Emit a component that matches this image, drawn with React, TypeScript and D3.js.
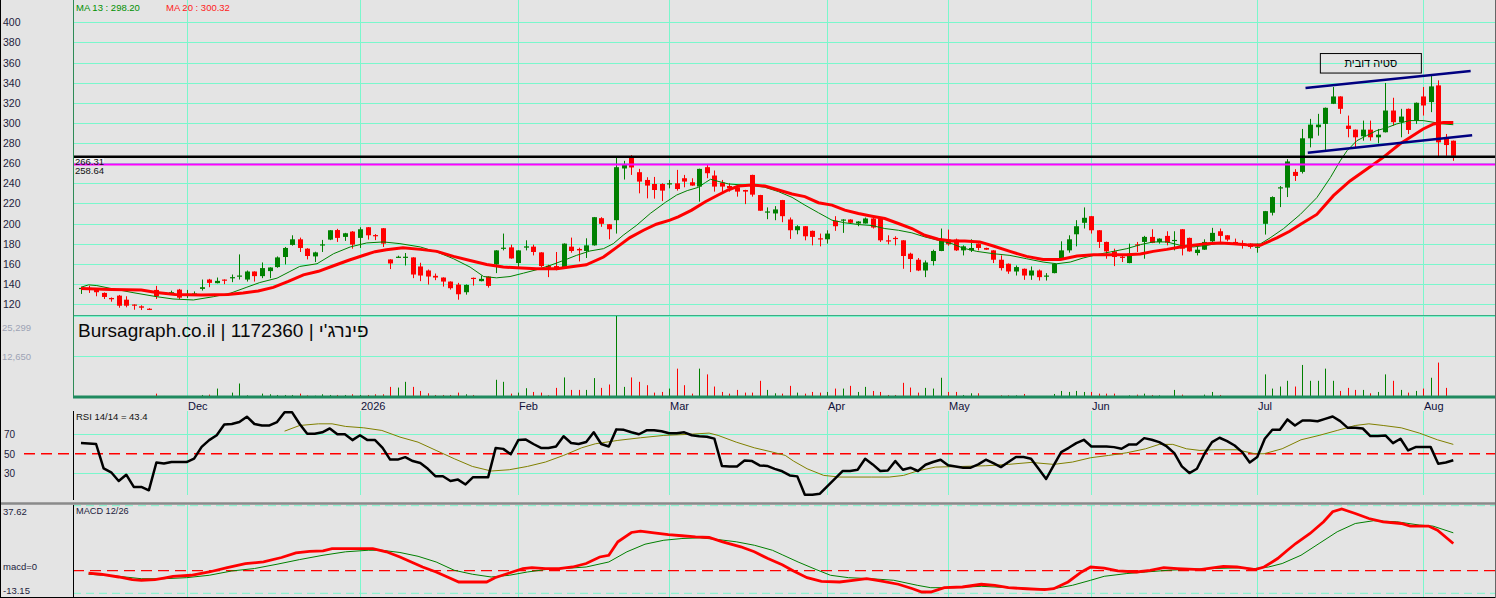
import * as d3 from 'd3';
import React, { useEffect } from 'react';

// candles (one per trading day, index 0..182)
const opens = [
  135, 136, 134.3, 131, 126, 128.3, 124.3, 119.5, 117.7, 115.3,
  134, 131.2, 131, 134.3, 129.5, 129.5, 135, 144.3, 140.7, 144.3,
  145.7, 147.7, 144.3, 152.3, 147.7, 152.7, 156.7, 166.7, 178.7, 184.3,
  175, 167.3, 178.5, 184, 193.5, 186.7, 192, 185.7, 196.3, 188.5,
  195.3, 164.3, 166, 166, 166.3, 157.3, 153.3, 148, 146.3, 142.3,
  139.3, 131.7, 146, 142.7, 147.3, 159.3, 175.5, 176.3, 160.7, 176,
  177, 171.3, 158, 157.7, 155.7, 177, 174.7, 172.7, 178.3, 205.3,
  199.3, 203.3, 254.7, 266, 251, 243.3, 239.3, 239.3, 239, 240,
  245, 241, 236.7, 256, 247.7, 240.7, 237.3, 236, 233.3, 248.3,
  228.3, 211.3, 210, 223.3, 204, 193.3, 197.3, 192.7, 185.3, 184.3,
  202.7, 203.7, 204, 200, 200, 205, 205, 183.3, 185.7, 183.3,
  170, 164, 153.3, 162.7, 172.7, 184, 184, 173.3, 173.3, 180,
  175.7, 173.3, 164, 160, 152.3, 155, 148.3, 153.3, 147.3, 150.7,
  165.7, 173.3, 189.3, 200.7, 207.3, 193.3, 181.7, 172.3, 167, 160.7,
  179.3, 181.7, 186.7, 181.7, 187.7, 183, 194.3, 185.7, 170.7, 174,
  182.3, 192.3, 188.3, 181.7, 180.3, 180, 176.3, 199.7, 210.7, 235,
  235.7, 251.3, 251.3, 284.7, 295.7, 299, 319, 326.3, 297.3, 293.3,
  286.7, 293.3, 285.7, 290.7, 312.3, 300.7, 314, 302.3, 326.3, 320.7,
  337.3, 284.7, 282.3,
];
const highs = [
  137, 138, 134.5, 131.5, 126.5, 129, 127.7, 119.7, 118.7, 115.8,
  138, 131.3, 133.3, 135, 134, 132.5, 144.3, 145, 146.3, 144.5,
  149.3, 169.3, 153.3, 152.5, 161.3, 156.5, 167.3, 176.7, 188.3, 186,
  175.5, 172, 183.7, 193.5, 194.7, 190.7, 192.5, 196.3, 196.5, 189.5,
  195.5, 164.5, 168, 170.7, 166.5, 161, 154.3, 150.3, 146.5, 142.5,
  141, 139.5, 146.3, 148.3, 147.5, 173.5, 190, 179, 173.5, 183.3,
  179, 171.5, 159, 171.7, 180.3, 186, 176, 185.3, 206.5, 206.3,
  199.5, 266, 262.3, 268, 254.3, 246, 246.3, 240, 243.3, 253.3,
  248.3, 245, 254.5, 258.3, 252.7, 243.3, 240, 236.3, 233.5, 248.5,
  228.5, 216, 217.3, 223.5, 206, 198.3, 197.5, 193, 190, 193.3,
  207.3, 204.3, 204.3, 202.3, 206, 206.7, 205.3, 188.3, 187.3, 183.5,
  171, 165.7, 163.3, 174, 195, 194, 185, 178.3, 184.3, 180.3,
  176, 173.5, 168.3, 160.3, 158.3, 155.3, 157.3, 154.3, 150.7, 160.3,
  182.3, 188.3, 203.3, 216, 207.5, 193.5, 182, 175, 169, 180,
  181.7, 187.7, 194.3, 185.3, 192.3, 192.3, 194.5, 186, 178.3, 184.3,
  195.7, 195, 188.5, 185, 183.3, 180.3, 180, 212.5, 227, 237.3,
  264, 254, 294, 304, 309, 315.3, 335.7, 326.5, 307.3, 293.5,
  302.3, 302.3, 294, 339.7, 325, 314, 314.3, 320.3, 335.7, 347.3,
  342.3, 289, 282.5,
];
const lows = [
  130, 131, 127.7, 125, 122.3, 116.3, 116.7, 114.3, 114, 114,
  125, 131.1, 129.3, 125, 126, 128, 133.3, 136.7, 140.5, 139.7,
  141.7, 144.3, 142.3, 142.3, 145.7, 145.7, 156, 159.3, 178, 171.7,
  164.3, 161.7, 171.7, 183.5, 181.7, 182.7, 175, 175.7, 184, 183.5,
  176.7, 154.7, 166, 158.3, 145.7, 142.7, 139.3, 143.7, 137.3, 134.3,
  124.3, 129.3, 138.3, 142.5, 136.3, 150.7, 173.3, 165, 156.7, 173.3,
  168.3, 156.7, 146.7, 153.5, 155, 171, 162.3, 165.7, 178, 196.7,
  184.3, 190, 243.7, 248.3, 230, 225, 224.7, 222.3, 235, 232.7,
  236, 237.5, 221.7, 245, 231.7, 230, 231.7, 226.7, 219.3, 226.7,
  212.5, 204.3, 203.3, 201.3, 184.7, 189.3, 183.3, 178.3, 177.3, 180,
  192.7, 190.7, 200.5, 197.3, 200, 195, 181.7, 179.3, 178.3, 155,
  151.7, 152.7, 146.7, 158.3, 172.5, 178, 172.7, 168.3, 171.7, 173.3,
  173.8, 160.7, 153.3, 150, 148.3, 144, 144, 143.3, 143.3, 150.5,
  165, 171, 177.3, 195, 190, 175.7, 165, 157.7, 161.7, 160.5,
  171.7, 165, 180.5, 180, 178.3, 173.3, 168.3, 172, 168.3, 173.8,
  181.7, 181.7, 182.3, 179.8, 175, 175, 171, 189, 208, 216.3,
  226.3, 242.3, 249.7, 275.7, 287.3, 273, 318.7, 309, 285.7, 275.7,
  282.3, 282.3, 279.7, 290.5, 297.3, 285.7, 289, 299, 307.3, 310.7,
  266.3, 267.3, 262.3,
];
const closes = [
  136, 135, 131.7, 127, 124.7, 118.3, 118.3, 119, 116.3, 115,
  127.7, 131.2, 131.7, 126.3, 130, 130.5, 136.7, 141, 143, 143.7,
  146.7, 148.3, 152.3, 147.7, 155.7, 156.3, 166.3, 175.7, 184.3, 175.7,
  167.7, 171.3, 179.3, 193.3, 185.7, 190.3, 179, 194.3, 188.3, 188,
  180, 160.3, 167, 167, 149.3, 148.3, 147.3, 146.3, 142.3, 135.7,
  129.7, 139, 145.5, 145, 138, 173.3, 176, 165.3, 173.3, 177.3,
  171.7, 157.7, 156, 154, 180, 172.7, 173.3, 178.3, 206.3, 199.7,
  194.3, 256, 258.7, 255.7, 241.7, 237.7, 233.3, 232.7, 240, 234.3,
  241.7, 237.7, 254.3, 250, 236.7, 236.7, 235, 231.7, 231.7, 228.7,
  212.7, 212, 214, 207.3, 193.3, 197.3, 187.3, 186.7, 184.7, 190,
  197.3, 204, 200.7, 202, 205, 196, 183.3, 182.3, 184.7, 167.7,
  164.7, 153.3, 161.3, 172.7, 184, 179.3, 173.3, 177.3, 175.7, 175.7,
  174, 164, 155.7, 152.3, 156.7, 148.3, 153.3, 146.7, 148.3, 160,
  173.3, 184.3, 197.3, 205.7, 193.3, 181.7, 172.3, 166.7, 166.5, 170,
  178.7, 186.7, 180.7, 185, 181, 183.7, 175, 172.3, 174, 181.7,
  190.7, 187.7, 184, 180, 179.7, 176.7, 177, 212.3, 226.3, 236,
  261.7, 247.3, 284.7, 298.3, 298.3, 315, 326.3, 314, 294, 285.7,
  293.3, 285.7, 288.3, 312.3, 300.7, 306.3, 293, 320, 317.3, 336.3,
  280.7, 278, 267.3,
];
const volumes = [
  316, 316, 316, 150, 150, 316, 150, 150, 150, 150,
  1054, 316, 316, 316, 150, 150, 632, 738, 2635, 316,
  1370, 4216, 527, 316, 1054, 843, 632, 632, 632, 1054,
  527, 422, 843, 632, 632, 632, 843, 632, 632, 843,
  843, 3162, 2951, 4743, 3162, 1897, 1159, 632, 632, 632,
  1370, 843, 632, 316, 316, 5375, 4743, 1054, 1370, 2740,
  1581, 1370, 527, 2846, 6113, 2213, 2213, 2213, 5902, 2846,
  3900, 25299, 3162, 6113, 4743, 3689, 1370, 1581, 2635, 8854,
  3689, 1054, 8854, 7062, 3267, 1581, 1054, 2213, 1370, 1370,
  5059, 2213, 1159, 1054, 3478, 1370, 1054, 1581, 1370, 1581,
  2635, 2635, 3478, 1581, 3162, 1897, 1581, 632, 632, 4427,
  2951, 1370, 2846, 2635, 6008, 1581, 1581, 632, 1159, 1159,
  316, 316, 527, 527, 527, 949, 316, 316, 316, 949,
  1897, 1581, 1897, 1581, 1581, 1054, 1054, 1054, 316, 527,
  738, 1054, 632, 527, 316, 2213, 738, 316, 316, 738,
  1581, 632, 316, 150, 316, 316, 316, 7062, 2635, 3267,
  5059, 3267, 10013, 5059, 5059, 8854, 5059, 1897, 2846, 2213,
  2213, 1159, 1581, 7062, 5059, 2213, 1370, 1897, 2635, 6008,
  10751, 2846, 316,
];

// moving averages, [day index, value]
const ma13Points = [
  [0, 136.7], [1, 139], [2.1, 138.3], [3.8, 135.7], [6.9, 131.3], [10, 127.3], [12.2, 125],
  [14.9, 124], [17.6, 127.3], [19.8, 130.7], [22, 136.7], [23.7, 141.3], [26, 145.7],
  [27.7, 152.3], [29, 157.3], [31.3, 160], [33.5, 170], [35.7, 176.7], [37.9, 180.7],
  [40.1, 181.7], [42.3, 180], [45, 176.7], [47.2, 171.7], [49.4, 165], [51.6, 156.7],
  [53.4, 147.3], [55.1, 146], [56.9, 147.3], [58.7, 150.7], [60.4, 154], [62.2, 158.3],
  [64, 163.3], [65.7, 168.3], [67.5, 172.7], [69.3, 175], [70.6, 180], [71.9, 188.3],
  [73.7, 198.3], [75.5, 210], [77.5, 221], [79, 228.3], [80.4, 232.7], [81.9, 236],
  [82.8, 240.7], [83.5, 244], [84.6, 241.7], [85.9, 239.3], [87.7, 238.3], [89, 238],
  [90.7, 236], [92.5, 231.7], [94.3, 226], [96, 218.3], [97.8, 210.7], [99.6, 203.3],
  [101.3, 200.7], [103.1, 199], [104.9, 198], [106.6, 195], [108.4, 193.3], [110.2, 190.7],
  [111.9, 186.7], [113.7, 183.3], [115.5, 180], [117, 175.5], [118.8, 172.3], [121, 170],
  [123.2, 168.3], [125.4, 165], [127.6, 161.7], [129.4, 160], [131.2, 161.7], [132.9, 165.7],
  [134.7, 169], [136.5, 171.7], [138.7, 175], [140.5, 179], [142.2, 181.7], [144, 181.7],
  [145.8, 178.3], [147.5, 176.7], [149.3, 178.3], [151.1, 180.7], [152.8, 180], [154.6, 179],
  [156.4, 179.7], [157.7, 185.7], [159.5, 195], [161.7, 209], [163.9, 225.7], [165.7, 245.7],
  [167, 262.3], [167.9, 272.3], [169.2, 282.3], [170.5, 287.3], [171.8, 292.3], [173.1, 295],
  [174.5, 299], [176.2, 302.3], [178, 302.3], [179.3, 300.7], [180.6, 299], [182, 298.2],
];
const ma20Points = [
  [0, 135.5], [4, 134.5], [8, 134], [10, 131.5], [12.5, 129.5], [16, 129], [19.5, 129.5],
  [21.5, 131], [23.5, 133], [25.5, 136.5], [27.5, 142.5], [29.5, 149], [31.5, 152.5],
  [33.5, 158], [35.5, 163.5], [37.5, 168.5], [39, 172], [40.5, 174], [42.7, 176],
  [45, 174.3], [47.2, 172.3], [49.4, 167.3], [51.6, 163.3], [53.8, 159.3], [56, 156.7],
  [57.8, 156], [60.4, 155], [63.1, 155], [64.8, 156.7], [67, 159], [69.3, 166.7], [71, 176],
  [72.8, 186], [74.6, 193.3], [76.3, 199.3], [78.1, 203.3], [79.2, 206.7], [81, 213.3],
  [82.8, 221.7], [84.5, 228.3], [85.8, 233.3], [87.2, 237.3], [89, 238.3], [90.7, 237.3],
  [92.5, 233.3], [94.3, 229.3], [96, 226.7], [97.8, 220.7], [99.6, 218.3], [101.3, 213.3],
  [103.1, 210], [104.9, 207.3], [106.6, 205], [108.4, 200], [110.2, 195], [111.9, 188.3],
  [113.7, 184.3], [115.5, 182.7], [117.2, 182.5], [119.2, 181.7], [121, 177.7], [123.2, 172.3],
  [125.4, 167.3], [127.6, 164.3], [129.9, 164.3], [132.1, 167.7], [134.3, 169], [136.5, 169],
  [138.7, 169], [140.5, 169.7], [142.2, 172.3], [144, 174.3], [145.8, 176.7], [147.5, 178.3],
  [149.3, 180], [151.1, 180.7], [152.8, 180], [154.6, 179], [156.4, 178.3], [158.6, 185.7],
  [160.3, 192.3], [161.7, 199], [163.9, 209], [166.1, 227.7], [168.3, 242.3], [170.5, 254],
  [172.7, 265.7], [174.9, 279], [176.3, 285.7], [178, 294], [179.4, 299], [180.7, 300.5],
  [182, 300.32],
];

// RSI 14, one value per day
const rsiValues = [
  61, 60.5, 60, 35, 31, 22, 28.5, 16, 16, 12.5,
  41, 40, 41.5, 41.5, 41.5, 45, 57, 64, 69, 80,
  80.5, 82.5, 88, 80.5, 79, 79, 82.5, 92.5, 92.5, 80.5,
  70.5, 70.5, 72, 76, 70, 70, 64, 69, 64, 64,
  56, 44, 44, 46.5, 42.5, 40.5, 34.5, 27, 27, 22,
  23.5, 18.5, 26, 26, 26, 56, 55, 49.5, 64, 64.5,
  60, 56, 56, 57.5, 68, 61, 60, 62, 72, 60,
  57.5, 75, 74.5, 72, 70, 74, 74, 73, 71, 71,
  72, 69, 68, 67.5, 65.5, 37.5, 37, 37, 43, 42.5,
  38, 37.5, 34.5, 32, 27.8, 26.8, 8, 8, 9, 16.9,
  24.4, 32.3, 32.3, 33.6, 44.9, 39.1, 32.3, 32.9, 42.5, 33.6,
  35.7, 32.3, 38.7, 41.5, 43.9, 38.1, 37, 35.7, 35.7, 39.1,
  43.9, 40.4, 36.3, 41.5, 46.6, 46.6, 44.9, 34.6, 24.1, 38.1,
  51.7, 56.1, 60.9, 64.3, 57.5, 57.5, 57.5, 56.8, 55.1, 59.6,
  59.6, 66, 64.3, 61.9, 57.5, 50.7, 37, 30.2, 34.6, 50,
  61.9, 66.4, 63, 58.5, 51.7, 41.1, 46.6, 65.4, 74.6, 74.6,
  85.2, 79, 84.1, 84.1, 83.4, 85.8, 88.2, 83.4, 76.6, 76.6,
  75.9, 68.1, 68.1, 68.8, 60.9, 65.4, 53.4, 56.8, 56.8, 56.8,
  39.8, 41.1, 43.4,
];
const rsiSignalPoints = [
  [27, 73.2], [29, 79], [31.5, 80.7], [33.3, 80.7], [35.1, 78], [37.5, 76.6], [39.9, 73.9],
  [42.3, 67.1], [44.7, 61.9], [47.1, 53.4], [49.5, 44.9], [51.9, 37], [54.4, 32.3],
  [56.8, 33.6], [59.2, 37], [61.6, 41.5], [64, 48.3], [66.4, 56.1], [68.2, 60.2],
  [71.2, 63.7], [74.2, 66.4], [77.3, 68.8], [80.3, 69.8], [83.3, 71.2], [84.5, 68.8],
  [86.9, 61.9], [89.3, 56.1], [91.7, 51.7], [93.4, 48.3], [94.5, 42.5], [96.3, 34.6],
  [98.5, 27.8], [100.6, 26.1], [104.8, 26.1], [107.2, 26.1], [109.1, 27.8], [110.9, 32.3],
  [113.3, 36.3], [116.9, 37], [120, 37.7], [123, 39.1], [126, 41.1], [129, 39.1],
  [131.5, 41.5], [133.9, 45.9], [136.3, 48.3], [138.7, 51], [141.2, 55.1], [143, 59.6],
  [144.8, 59.6], [146.6, 55.1], [148.4, 53.4], [150.2, 54.1], [153.3, 54.1], [155.7, 50],
  [156.9, 50], [159.3, 55.1], [161.8, 64.3], [164.2, 68.8], [166.6, 73.9], [169, 79],
  [170.8, 80.7], [172.7, 79], [175.1, 76.6], [177.5, 71.2], [179.9, 64.3], [182, 59.6],
];

// MACD 12/26 and its signal, [day index, value]
const macdPoints = [
  [1, -1.4], [2.6, -2.1], [5, -3.7], [6.8, -5.2], [8, -5.6], [9.8, -5.2], [11, -4.3],
  [12.2, -3.3], [14.6, -2.7], [17, -0.8], [19.4, 1.7], [21.8, 4.1], [24.2, 5], [26.6, 7.6],
  [28.5, 10.3], [30.3, 11.2], [32.1, 11.4], [33.3, 12.8], [35.1, 12.8], [36.9, 12.8],
  [38.7, 12.8], [40.5, 10.9], [42.3, 7.9], [43.5, 5.6], [45.3, 2.1], [47.1, -0.8],
  [48.9, -4.3], [50.1, -6.6], [51.9, -6.6], [53.8, -6.6], [54.9, -4.1], [56.8, -1.4],
  [58.6, 1.2], [59.8, 1.7], [61.6, 1.2], [63.4, 1.2], [65.2, 2.1], [67, 4.1], [68.8, 7.9],
  [70, 8.9], [71.2, 16.7], [73, 22.1], [74.2, 22.9], [76, 21.9], [77.9, 20.9], [79.7, 20.2],
  [81.5, 19.6], [83.3, 19.2], [85.1, 16.7], [87.5, 13.8], [89.3, 10.9], [91.1, 7], [93, 3.4],
  [94.5, -0.2], [96.3, -4.1], [98.2, -6.2], [100.6, -6.6], [102.4, -5.6], [104.2, -4.7],
  [106, -6], [108.4, -7.9], [110.3, -10.5], [111.5, -12.4], [112.7, -12.4], [114.5, -9.9],
  [116.9, -9.5], [119.4, -7.9], [121.2, -8.5], [123, -9.9], [125.4, -10.5], [127.8, -11],
  [129, -10.5], [130.9, -6.6], [132.7, -0.8], [133.9, 2.1], [135.7, 1.4], [137.5, -0.2],
  [140, -0.8], [141.8, 0.2], [143.6, 1.7], [145.4, 1.2], [148.4, 0.6], [151.5, 2.5],
  [153.3, 2.1], [155.7, 0.6], [156.9, 2.1], [158.7, 7], [160, 11.8], [161.1, 15.7],
  [163, 21.5], [164.8, 28.3], [166, 34.1], [167.2, 35.7], [169, 33.1], [170.8, 30.2],
  [172.7, 28.3], [175.1, 27.3], [176.3, 25.8], [178.7, 25.8], [179.9, 23.4], [182, 15.7],
];
const macdSignalPoints = [
  [1, -2.1], [5, -3.3], [8, -4.7], [11, -4.7], [14, -4.1], [17, -2.7], [20, -0.2], [23, 1.2],
  [26, 3.7], [29, 6.4], [32.1, 8.9], [35.1, 10.9], [38.1, 11.8], [39.9, 11.8], [42.3, 10.5],
  [44.7, 8.3], [47.1, 5], [49.5, 0.2], [51.9, -2.1], [54.4, -3.7], [56.8, -2.7], [59.2, -0.8],
  [61.6, 0.6], [64, 1.2], [67, 2.1], [70, 5], [72.4, 10.9], [74.8, 15.3], [77.3, 17.6],
  [79.7, 18.6], [82.1, 19], [84.5, 18], [86.9, 16.7], [89.3, 14.7], [91.7, 11.8], [93, 9.2],
  [95.1, 5], [97.5, 0.6], [99.4, -2.7], [101.8, -4.1], [104.8, -4.7], [107.8, -5.6],
  [110.9, -8.5], [112.7, -9.9], [115.7, -9.9], [119.4, -9.1], [123, -9.9], [126.6, -10.5],
  [129, -10.5], [131.5, -8.5], [133.9, -5.6], [135.7, -3.3], [138.7, -1.7], [141.2, -0.8],
  [144.2, 0.2], [147.2, 0.8], [150.2, 1.2], [153.3, 1.6], [155.7, 1.2], [157.5, 2.1],
  [159.3, 4.1], [161.8, 8.9], [164.2, 15.7], [166.6, 22.5], [169, 27.3], [171.4, 28.9],
  [174.5, 28.3], [177.5, 26.4], [179.3, 25.8], [182, 21.9],
];

// tick labels
const priceTicks = [120, 140, 160, 180, 200, 220, 240, 260, 280, 300, 320, 340, 360, 380, 400];
const monthLabels = ['Dec', '2026', 'Feb', 'Mar', 'Apr', 'May', 'Jun', 'Jul', 'Aug'];
const monthIndex = [14, 37, 58, 78, 99, 115, 134, 156, 178];
const rsiTicks = [70, 50, 30];
const levelLines = [266.31, 258.64];
// bearish divergence channel, [day index, price]
const upperTrend = [[162.4, 334.7], [184.3, 351.7]];
const lowerTrend = [[162.7, 270.3], [184.5, 287.7]];
const noteText = 'סטיה דובית';
const noteAt = [171, 359.5];

const W = 1496;
const H = 598;
const BG = '#e4e4e4';
const GRID = '#7af7cc';
const UP = '#008000';
const DOWN = '#ff0000';
const FONT = '"Liberation Sans", Arial, sans-serif';

export default function App() {
  useEffect(() => {
    document.body.style.margin = '0';
  }, []);

  const x = d3.scaleLinear().domain([0, 182]).range([81, 1453.3]);
  const yP = d3.scaleLinear().domain([120, 400]).range([304, 22.3]);
  const yV = d3.scaleLinear().domain([0, 25299]).range([397, 316]);
  const yR = d3.scaleLinear().domain([0, 100]).range([502.5, 405]);
  const yM = d3.scaleLinear().domain([-13.15, 37.62]).range([593.3, 505.7]);

  const pLine = d3.line<number[]>().x(d => x(d[0])).y(d => yP(d[1]));
  const rLine = d3.line<number[]>().x(d => x(d[0])).y(d => yR(d[1]));
  const mLine = d3.line<number[]>().x(d => x(d[0])).y(d => yM(d[1]));
  const rsiPath = d3
    .line<number>()
    .x((_, i) => x(i))
    .y(d => yR(d))(rsiValues);

  const px = (i: number) => Math.round(x(i)) + 0.5;

  return (
    <svg
      width={W}
      height={H}
      style={{ position: 'absolute', left: 0, top: 0, background: BG, fontFamily: FONT }}
    >
      <rect x={0} y={0} width={W} height={H} fill={BG} />

      {/* horizontal grid: price */}
      {priceTicks.map(t => (
        <line key={t} x1={73} x2={W} y1={Math.round(yP(t)) + 0.5} y2={Math.round(yP(t)) + 0.5} stroke={GRID} />
      ))}
      {/* volume grid */}
      <line x1={73} x2={W} y1={316.5} y2={316.5} stroke={GRID} />
      <line x1={73} x2={W} y1={356.5} y2={356.5} stroke={GRID} />
      {/* rsi grid */}
      {[70, 30].map(t => (
        <line key={t} x1={73} x2={W} y1={Math.round(yR(t)) + 0.5} y2={Math.round(yR(t)) + 0.5} stroke={GRID} />
      ))}
      {/* macd grid */}
      <line x1={73} x2={W} y1={yM(37.62)} y2={yM(37.62)} stroke={GRID} strokeDasharray="8,5" />
      <line x1={73} x2={W} y1={yM(-13.15)} y2={yM(-13.15)} stroke={GRID} strokeDasharray="8,5" />

      {/* vertical month grid */}
      {monthIndex.map(m => (
        <g key={m} stroke={GRID}>
          <line x1={px(m)} x2={px(m)} y1={0} y2={397} />
          <line x1={px(m)} x2={px(m)} y1={411} y2={495} />
          <line x1={px(m)} x2={px(m)} y1={505} y2={597} />
        </g>
      ))}

      {/* candles */}
      {opens.map((o, i) => {
        const c = closes[i];
        const col = c >= o ? UP : DOWN;
        const cx = px(i);
        const top = yP(Math.max(o, c));
        const bot = yP(Math.min(o, c));
        return (
          <g key={i}>
            <line x1={cx} x2={cx} y1={yP(highs[i])} y2={yP(lows[i])} stroke={col} />
            <rect x={cx - 2.5} y={top} width={5} height={Math.max(1.2, bot - top)} fill={col} />
          </g>
        );
      })}

      {/* moving averages */}
      <path d={pLine(ma13Points) ?? ''} fill="none" stroke={UP} strokeWidth={1} />
      <path d={pLine(ma20Points) ?? ''} fill="none" stroke={DOWN} strokeWidth={3} />

      {/* level lines */}
      <line x1={73} x2={W} y1={yP(levelLines[0])} y2={yP(levelLines[0])} stroke="#000" strokeWidth={2.5} />
      <line x1={73} x2={W} y1={yP(levelLines[1])} y2={yP(levelLines[1])} stroke="#ff00ff" strokeWidth={2} />
      <rect x={74} y={yP(levelLines[0]) + 1.3} width={30} height={4} fill="#f4f4f4" />
      <text x={75} y={yP(levelLines[0]) + 8.2} fontSize={9.5} fill="#111">{levelLines[0].toFixed(2)}</text>
      <text x={75} y={yP(levelLines[1]) + 9} fontSize={9.5} fill="#111">{levelLines[1].toFixed(2)}</text>

      {/* divergence channel */}
      <path d={pLine(upperTrend) ?? ''} stroke="#000080" strokeWidth={2.5} fill="none" />
      <path d={pLine(lowerTrend) ?? ''} stroke="#000080" strokeWidth={2.5} fill="none" />
      <rect x={x(noteAt[0]) - 50} y={yP(noteAt[1]) - 9.5} width={101} height={19.5} fill="none" stroke="#000" />
      <text x={x(noteAt[0]) + 0.5} y={yP(noteAt[1]) + 4} fontSize={11} textAnchor="middle" fill="#000">
        {noteText}
      </text>

      {/* price axis */}
      {priceTicks.map(t => (
        <text key={t} x={3} y={yP(t) + 4} fontSize={10.5} fill="#1c1c3c">{t}</text>
      ))}
      <text x={76} y={10.5} fontSize={9.5} fill="#009000">MA 13 : 298.20</text>
      <text x={166} y={10.5} fontSize={9.5} fill="#ff2020">MA 20 : 300.32</text>

      {/* pane frames */}
      <line x1={73} x2={W} y1={315.5} y2={315.5} stroke="#3cae86" />
      <line x1={73.5} x2={73.5} y1={0} y2={397} stroke="#2e8b57" />

      {/* volume */}
      {volumes.map((v, i) => (
        <line
          key={i}
          x1={px(i)}
          x2={px(i)}
          y1={397}
          y2={yV(v)}
          stroke={closes[i] >= opens[i] ? UP : DOWN}
          strokeWidth={1}
        />
      ))}
      <line x1={73} x2={W} y1={397} y2={397} stroke="#1f8a5f" strokeWidth={3} />
      <text x={2} y={331} fontSize={9.5} fill="#9da3b5">25,299</text>
      <text x={2} y={360} fontSize={9.5} fill="#9da3b5">12,650</text>
      <text x={78} y={337} fontSize={19} fill="#0a0a0a">
        Bursagraph.co.il | 1172360 | פינרג'י
      </text>

      {/* month labels */}
      {monthLabels.map((m, k) => (
        <text key={m} x={px(monthIndex[k]) + 0.5} y={409.5} fontSize={11} fill="#10103a">{m}</text>
      ))}

      {/* RSI */}
      <line x1={24} x2={W} y1={yR(50)} y2={yR(50)} stroke={DOWN} strokeWidth={1.3} strokeDasharray="11,6" />
      <path d={rLine(rsiSignalPoints) ?? ''} fill="none" stroke="#808000" strokeWidth={1} />
      <path d={rsiPath ?? ''} fill="none" stroke="#000" strokeWidth={2.5} strokeLinejoin="round" />
      <line x1={73.5} x2={73.5} y1={411} y2={500} stroke="#000" />
      <text x={76} y={419.5} fontSize={9.5} fill="#111">RSI 14/14 = 43.4</text>
      {rsiTicks.map(t => (
        <text key={t} x={4} y={yR(t) + 4} fontSize={10} fill="#1c1c3c">{t}</text>
      ))}

      {/* separator */}
      <line x1={0} x2={W} y1={503.5} y2={503.5} stroke="#8a8a8a" strokeWidth={2.5} />

      {/* MACD */}
      <line x1={73} x2={W} y1={yM(0)} y2={yM(0)} stroke={DOWN} strokeWidth={1.3} strokeDasharray="11,6" />
      <path d={mLine(macdSignalPoints) ?? ''} fill="none" stroke={UP} strokeWidth={1} />
      <path d={mLine(macdPoints) ?? ''} fill="none" stroke={DOWN} strokeWidth={2.8} />
      <line x1={73.5} x2={73.5} y1={505} y2={597} stroke="#000" />
      <text x={76} y={513.5} fontSize={9.2} fill="#1c1c3c">MACD 12/26</text>
      <text x={3} y={514.5} fontSize={9.5} fill="#1c1c3c">37.62</text>
      <text x={3} y={569.5} fontSize={9.5} fill="#1c1c3c">macd=0</text>
      <text x={3} y={593.5} fontSize={9.5} fill="#1c1c3c">-13.15</text>

      {/* outer frame */}
      <line x1={0.5} x2={0.5} y1={0} y2={H} stroke="#000" />
      <line x1={0} x2={W} y1={597.5} y2={597.5} stroke="#000" />
      <line x1={W - 0.5} x2={W - 0.5} y1={0} y2={H} stroke="#666" />
    </svg>
  );
}
